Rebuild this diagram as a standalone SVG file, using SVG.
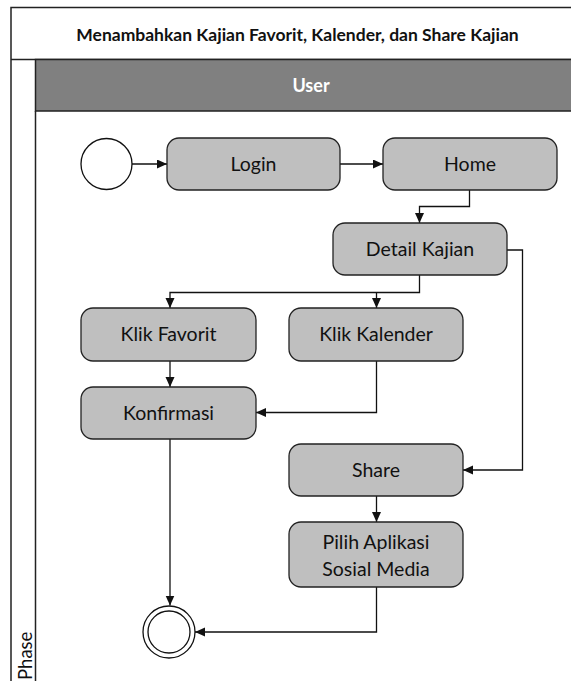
<svg xmlns="http://www.w3.org/2000/svg" width="571" height="681" viewBox="0 0 571 681">
  <style>
    .frame { fill: none; stroke: #222; stroke-width: 1.5; }
    .act { fill: #bfbfbf; stroke: #222; stroke-width: 1.3; }
    .lbl { font-family: Lato, "Liberation Sans", sans-serif; font-size: 19.5px; fill: #111; text-anchor: middle; }
    .title { font-family: Lato, "Liberation Sans", sans-serif; font-size: 17.5px; font-weight: bold; fill: #111; text-anchor: middle; }
    .lane { font-family: Lato, "Liberation Sans", sans-serif; font-size: 18px; font-weight: bold; fill: #fff; text-anchor: middle; }
    .phase { font-family: Lato, "Liberation Sans", sans-serif; font-size: 18.5px; fill: #111; }
    .flow { fill: none; stroke: #111; stroke-width: 1.3; marker-end: url(#arrow); }
  </style>
  <defs>
    <marker id="arrow" markerUnits="userSpaceOnUse" markerWidth="11" markerHeight="10" refX="10" refY="4.5" orient="auto">
      <path d="M0,0 L10,4.5 L0,9 z" fill="#111"/>
    </marker>
  </defs>

  <!-- pool / lane frame -->
  <rect x="0" y="0" width="571" height="681" fill="#fff"/>
  <g id="pool">
    <path class="frame" d="M572,7.5 H11 V682"/>
    <line class="frame" x1="11" y1="59.5" x2="572" y2="59.5"/>
    <text class="title" x="297.5" y="41">Menambahkan Kajian Favorit, Kalender, dan Share Kajian</text>
    <text class="phase" transform="translate(32,680) rotate(-90)">Phase</text>
  </g>
  <g id="lane-user">
    <rect x="35.5" y="59.5" width="537" height="51.5" fill="#808080" stroke="#222" stroke-width="1.5"/>
    <line class="frame" x1="35.5" y1="111" x2="35.5" y2="682"/>
    <text class="lane" x="311" y="92">User</text>
  </g>

  <!-- connectors -->
  <g id="connectors">
    <path class="flow" d="M132,164 H167"/>
    <path class="flow" d="M340,164 H383"/>
    <path class="flow" d="M469.5,190 V206.5 H419.5 V223"/>
    <path class="flow" d="M507,250 H522.5 V470 H463"/>
    <path class="flow" d="M419.5,275 V292.5 H170 V308"/>
    <path class="flow" d="M376.5,292.5 V308"/>
    <path class="flow" d="M170,361 V387"/>
    <path class="flow" d="M376.5,361 V412.5 H256"/>
    <path class="flow" d="M376.5,496 V522"/>
    <path class="flow" d="M170,439 V605.5"/>
    <path class="flow" d="M376.5,587 V632 H195"/>
  </g>

  <!-- nodes -->
  <g id="start">
    <circle cx="106.5" cy="164" r="25.5" fill="#fff" stroke="#111" stroke-width="1.3"/>
  </g>
  <g id="login">
    <rect class="act" x="167" y="138" width="173" height="52" rx="12"/>
    <text class="lbl" x="253.5" y="171">Login</text>
  </g>
  <g id="home">
    <rect class="act" x="383" y="138" width="174" height="52" rx="12"/>
    <text class="lbl" x="470" y="171">Home</text>
  </g>
  <g id="detail-kajian">
    <rect class="act" x="333" y="223" width="174" height="52" rx="12"/>
    <text class="lbl" x="420" y="256">Detail Kajian</text>
  </g>
  <g id="klik-favorit">
    <rect class="act" x="81" y="308" width="175" height="53" rx="12"/>
    <text class="lbl" x="168.5" y="341">Klik Favorit</text>
  </g>
  <g id="klik-kalender">
    <rect class="act" x="289" y="308" width="174" height="53" rx="12"/>
    <text class="lbl" x="376" y="341">Klik Kalender</text>
  </g>
  <g id="konfirmasi">
    <rect class="act" x="81" y="387" width="175" height="52" rx="12"/>
    <text class="lbl" x="168.5" y="420">Konfirmasi</text>
  </g>
  <g id="share">
    <rect class="act" x="289" y="444" width="174" height="52" rx="12"/>
    <text class="lbl" x="376" y="477">Share</text>
  </g>
  <g id="pilih-aplikasi">
    <rect class="act" x="289" y="522" width="174" height="65" rx="12"/>
    <text class="lbl" x="376" y="549">Pilih Aplikasi</text>
    <text class="lbl" x="376" y="576">Sosial Media</text>
  </g>
  <g id="end">
    <circle cx="169" cy="632" r="26" fill="#fff" stroke="#111" stroke-width="1.3"/>
    <circle cx="169" cy="632" r="21" fill="none" stroke="#111" stroke-width="1.3"/>
  </g>
</svg>
